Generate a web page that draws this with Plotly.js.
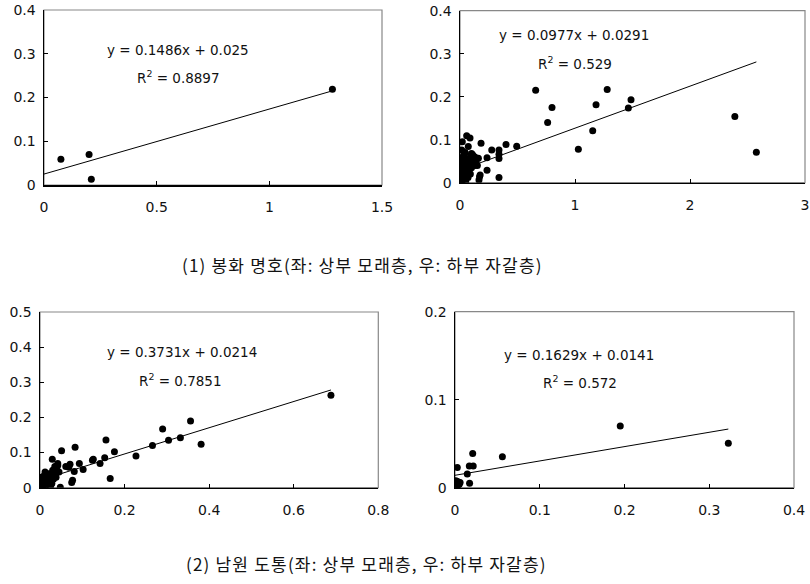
<!DOCTYPE html>
<html><head><meta charset="utf-8">
<script src="https://cdn.plot.ly/plotly-3.0.1.min.js"></script>
<style>body{margin:0;background:#fff}#c{width:810px;height:584px}</style>
</head><body><div id="c"></div>
<script>
// Panel 1: 봉화 명호 상부 모래층
const p1x = [0.075, 0.20, 0.21, 1.28];
const p1y = [0.059, 0.070, 0.013, 0.219];
// Panel 2: 봉화 명호 하부 자갈층
const p2x = [0.658,0.762,0.80,1.029,1.154,1.183,1.28,1.464,1.487,2.39,2.577,0.493,0.40,0.339,0.339,0.339,0.339,0.276,0.235,0.235,0.183,0.17,0.165,0.175,0.151,0.16,0.13,0.10,0.058,0.02,0.087,0.072,0.015,
  0.05,0.06,0.08,0.09,0.11,0.12,0.14,0.07,0.05,0.03,0.04,0.06,0.08,0.10,0.07,0.06,0.09,0.03,0.02,0.01,0.015,0.01,0.005,0.008,0.02,0.03,0.012,0.025,0.04,0.05,0.003,0.006,0.015,0.025,0.035,0.045,0.11,0.13];
const p2y = [0.215,0.140,0.175,0.078,0.121,0.181,0.217,0.174,0.193,0.154,0.071,0.085,0.089,0.076,0.066,0.056,0.012,0.076,0.058,0.029,0.092,0.014,0.006,0.018,0.040,0.057,0.060,0.068,0.109,0.095,0.104,0.084,0.076,
  0.050,0.055,0.045,0.060,0.050,0.055,0.048,0.038,0.040,0.045,0.030,0.025,0.030,0.035,0.012,0.018,0.020,0.020,0.030,0.040,0.025,0.015,0.005,0.010,0.005,0.008,0.002,0.015,0.010,0.002,0.020,0.030,0.050,0.060,0.065,0.070,0.065,0.040];
// Panel 3: 남원 도통 상부 모래층
const p3x = [0.688,0.381,0.356,0.332,0.304,0.290,0.266,0.227,0.176,0.166,0.156,0.153,0.142,0.126,0.124,0.102,0.093,0.081,0.083,0.077,0.075,0.071,0.068,0.061,0.051,0.048,0.042,0.042,0.029,
  0.04,0.035,0.038,0.03,0.032,0.028,0.025,0.02,0.015,0.012,0.01,0.008,0.005,0.003,0.002,0.006,0.01,0.014,0.018,0.022,0.025,0.018,0.008,0.004,0.012,0.03,0.035,0.045];
const p3y = [0.263,0.124,0.190,0.142,0.135,0.167,0.120,0.090,0.102,0.026,0.136,0.085,0.069,0.081,0.078,0.052,0.069,0.046,0.115,0.021,0.015,0.067,0.058,0.060,0.105,0.001,0.069,0.063,0.081,
  0.050,0.040,0.030,0.035,0.025,0.012,0.005,0.020,0.030,0.045,0.035,0.025,0.015,0.008,0.002,0.004,0.010,0.008,0.012,0.030,0.040,0.040,0.020,0.030,0.001,0.050,0.060,0.045];
// Panel 4: 남원 도통 하부 자갈층
const p4x = [0.3225,0.195,0.0559,0.0209,0.0169,0.0215,0.0027,0.0145,0.0172,0.001,0.003,0.005,0.006,0.001,0.002,0.004];
const p4y = [0.0504,0.070,0.0352,0.039,0.0247,0.0247,0.023,0.0156,0.005,0.008,0.007,0.004,0.006,0.002,0.001,0.003];

const slopes = [0.1486, 0.0977, 0.3731, 0.1629];
const intercepts = [0.025, 0.0291, 0.0214, 0.0141];
const eqTexts = ["y = 0.1486x + 0.025", "y = 0.0977x + 0.0291", "y = 0.3731x + 0.0214", "y = 0.1629x + 0.0141"];
const r2Texts = ["R<sup>2</sup> = 0.8897", "R<sup>2</sup> = 0.529", "R<sup>2</sup> = 0.7851", "R<sup>2</sup> = 0.572"];
const xRanges = [[0,1.5],[0,3],[0,0.8],[0,0.4]];
const yRanges = [[0,0.4],[0,0.4],[0,0.5],[0,0.2]];
const xDticks = [0.5, 1, 0.2, 0.1];
const yDticks = [0.1, 0.1, 0.1, 0.1];
const captions = ["(1) 봉화 명호(좌: 상부 모래층, 우: 하부 자갈층)", "(2) 남원 도통(좌: 상부 모래층, 우: 하부 자갈층)"];

const W = 810, H = 584;
// plot boxes in pixels [left, right, top, bottom]
const boxes = [[44,382,10,185],[460,805,10.7,182.7],[40,378.3,312,487.7],[455,794,311.7,487.7]];
const eqPos = [[178,50,178,77],[574,35,574.5,63],[181.7,351.7,180,380],[579,355,579.7,382]];
const capPos = [[362,264],[366,563]];

const xs = [p1x,p2x,p3x,p4x], ys = [p1y,p2y,p3y,p4y];
const traces = [], layout = {
  width: W, height: H, margin: {l:0,r:0,t:0,b:0}, showlegend: false,
  paper_bgcolor: '#fff', plot_bgcolor: 'rgba(0,0,0,0)',
  font: {family: 'DejaVu Sans', size: 14, color: '#111'},
  annotations: [], shapes: []
};
const px = v => v / W, py = v => 1 - v / H;
for (let i = 0; i < 4; i++) {
  const s = i === 0 ? '' : String(i + 1);
  const b = boxes[i];
  traces.push({type:'scatter', mode:'markers', x: xs[i], y: ys[i], xaxis:'x'+s, yaxis:'y'+s,
    marker:{color:'#000', size:7}, hoverinfo:'skip'});
  const xm = Math.max(...xs[i]);
  traces.push({type:'scatter', mode:'lines', x:[0, xm], y:[intercepts[i], slopes[i]*xm + intercepts[i]],
    xaxis:'x'+s, yaxis:'y'+s, line:{color:'#000', width:1}, hoverinfo:'skip'});
  layout['xaxis'+s] = {domain:[px(b[0]), px(b[1])], range:xRanges[i], dtick:xDticks[i], tick0:0,
    anchor:'y'+s, showgrid:false, zeroline:false, showline:true, linecolor:'#000', linewidth:1.5,
    ticks:'inside', ticklen:4, tickcolor:'#000', ticklabelstandoff:9, fixedrange:true,
    tickfont:{family:'DejaVu Sans', size:14, color:'#111'}};
  layout['yaxis'+s] = {domain:[py(b[3]), py(b[2])], range:yRanges[i], dtick:yDticks[i], tick0:0,
    anchor:'x'+s, showgrid:false, zeroline:false, showline:true, linecolor:'#000', linewidth:1.5,
    ticks:'inside', ticklen:4, tickcolor:'#000', ticklabelstandoff:4, fixedrange:true,
    tickfont:{family:'DejaVu Sans', size:14, color:'#111'}};
  layout.shapes.push({type:'rect', xref:'x'+s+' domain', yref:'y'+s+' domain', x0:0, x1:1, y0:0, y1:1,
    line:{color:'#888', width:1.2}, layer:'below'});
  const e = eqPos[i];
  layout.annotations.push({xref:'paper', yref:'paper', x:px(e[0]), y:py(e[1]), text:eqTexts[i],
    showarrow:false, xanchor:'center', yanchor:'middle', font:{family:'DejaVu Sans', size:13.5, color:'#111'}});
  layout.annotations.push({xref:'paper', yref:'paper', x:px(e[2]), y:py(e[3]), text:r2Texts[i],
    showarrow:false, xanchor:'center', yanchor:'middle', font:{family:'DejaVu Sans', size:13.5, color:'#111'}});
}
captions.forEach((c, k) => {
  layout.annotations.push({xref:'paper', yref:'paper', x:px(capPos[k][0]), y:py(capPos[k][1]),
    text:'<span style="letter-spacing:1.2px">' + c + '</span>',
    showarrow:false, xanchor:'center', yanchor:'middle', font:{family:'Noto Sans CJK KR', size:17, color:'#111'}});
});
Plotly.newPlot('c', traces, layout, {staticPlot:true});
</script></body></html>
